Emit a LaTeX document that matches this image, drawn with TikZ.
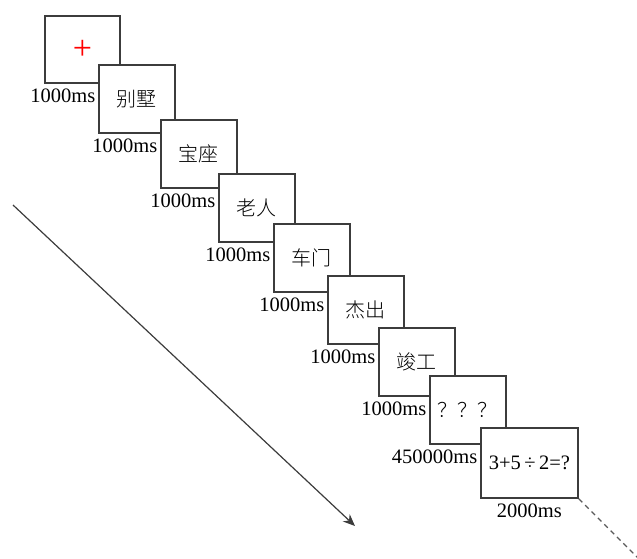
\documentclass[tikz,border=0pt]{standalone}
\usepackage{fontspec}
\setmainfont{Liberation Serif}
\newfontfamily\cjk{Noto Sans CJK SC}[UprightFont=* Light]
\usepackage{xcolor}
\usetikzlibrary{arrows.meta, positioning, calc}
\definecolor{framegray}{HTML}{3C3C3C}
\definecolor{dashgray}{HTML}{5A5A5A}

\begin{document}
\begin{tikzpicture}[
    x=1pt, y=-1pt,
    frame/.style={draw=framegray, line width=1.8pt, fill=white, anchor=north west, inner sep=0pt,
      minimum width=76pt, minimum height=68pt, font=\cjk\fontsize{20}{24}\selectfont},
    dur/.style={anchor=north east, inner xsep=2.5pt, inner ysep=5pt, font=\fontsize{20.5}{24}\selectfont},
    arrow/.style={-{Stealth[length=12pt, width=10pt]}, line width=1.2pt, draw=framegray}
]
\path[use as bounding box] (0,0) rectangle (637,559);

% Fixation
\node[frame, minimum width=75pt, minimum height=67pt, text=red, font=\fontsize{34}{34}\selectfont] (fix) at (44,15) {+};

% Word pairs
\node[frame] (w1) at (98,64) {别墅};
\node[dur] at (fix.south -| w1.west) {1000ms};

\node[frame] (w2) at (160,119) {宝座};
\node[dur] at (w1.south -| w2.west) {1000ms};

\node[frame] (w3) at (218,173) {老人};
\node[dur] at (w2.south -| w3.west) {1000ms};

\node[frame] (w4) at (273,223) {车门};
\node[dur] at (w3.south -| w4.west) {1000ms};

\node[frame] (w5) at (327,275) {杰出};
\node[dur] at (w4.south -| w5.west) {1000ms};

\node[frame] (w6) at (378,327) {竣工};
\node[dur] at (w5.south -| w6.west) {1000ms};

% Recall
\node[frame] (recall) at (429,375) {？？？};
\node[dur] at (w6.south -| recall.west) {1000ms};

% Math task
\node[frame, minimum width=97pt, minimum height=70pt, font=\fontsize{20.5}{24}\selectfont] (math) at (480,427) {3+5\,÷\,2=?};
\node[dur] at (recall.south -| math.west) {450000ms};
\node[font=\fontsize{20.5}{24}\selectfont, below=2pt of math] (last) {2000ms};

% Time axis
\coordinate (tstart) at (13,205);
\coordinate (tend) at (355,526);
\draw[arrow] (tstart) -- (tend);

\coordinate (more) at (641,561);
\draw[dashgray, line width=1.2pt, dash pattern=on 5pt off 4pt] (math.south east) -- (more);

\end{tikzpicture}
\end{document}
